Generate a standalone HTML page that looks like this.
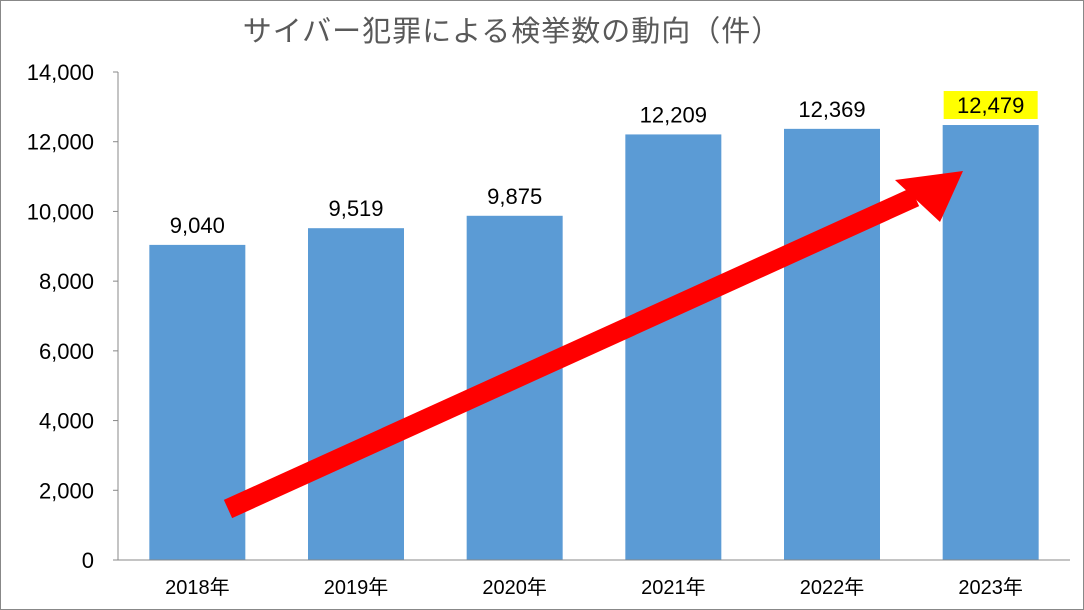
<!DOCTYPE html>
<html><head><meta charset="utf-8">
<style>
html,body{margin:0;padding:0;background:#fff;}
svg{display:block;font-family:"Liberation Sans","Noto Sans CJK JP",sans-serif;}
</style></head>
<body>
<svg id="chart" width="1084" height="610" viewBox="0 0 1084 610">
<rect x="0.5" y="0.5" width="1083" height="609" fill="#fff" stroke="#888"/>
<text x="512" y="41" text-anchor="middle" font-size="29" letter-spacing="1" fill="#595959">サイバー犯罪による検挙数の動向（件）</text>
<g id="bars"></g>
<g id="axes"></g>
<g id="labels"></g>
<g id="arrow">
<line x1="228" y1="509" x2="915" y2="197" stroke="#ff0000" stroke-width="20"/>
<polygon points="963,171 895,180 940,222" fill="#ff0000"/>
</g>
</svg>
<script>
const categories=["2018年","2019年","2020年","2021年","2022年","2023年"];
const values=[9040,9519,9875,12209,12369,12479];
const valueLabels=["9,040","9,519","9,875","12,209","12,369","12,479"];
const yTicks=[0,2000,4000,6000,8000,10000,12000,14000];
const yTickLabels=["0","2,000","4,000","6,000","8,000","10,000","12,000","14,000"];
const NS="http://www.w3.org/2000/svg";
const plotLeft=118,plotRight=1070,plotTop=72,plotBottom=560,yMax=14000;
const band=(plotRight-plotLeft)/categories.length,barW=96;
const yPos=v=>plotBottom-(v/yMax)*(plotBottom-plotTop);
const xc=i=>plotLeft+band*(i+0.5);
function mk(tag,attrs,parent){const e=document.createElementNS(NS,tag);for(const k in attrs)e.setAttribute(k,attrs[k]);parent.appendChild(e);return e;}
const gb=document.getElementById('bars'),ga=document.getElementById('axes'),gl=document.getElementById('labels');
values.forEach((v,i)=>{
 const r=mk('rect',{x:xc(i)-barW/2,y:yPos(v),width:barW,height:plotBottom-yPos(v),fill:'#5b9bd5'},gb);
 
 
 if(i===values.length-1){
  const hl=mk('rect',{x:xc(i)-47,y:yPos(v)-34,width:94,height:28,fill:'#ffff00'},gl);
  
  
 }
 const t=mk('text',{x:xc(i),y:yPos(v)-12,'text-anchor':'middle','font-size':22,fill:'#000'},gl);
 t.textContent=valueLabels[i];
 
 
 const c=mk('text',{x:xc(i),y:594,'text-anchor':'middle','font-size':20,fill:'#000'},gl);
 c.textContent=categories[i];
 
 
});
const ya=mk('line',{x1:plotLeft,y1:plotTop,x2:plotLeft,y2:plotBottom,stroke:'#888','stroke-width':1},ga);


const xa=mk('line',{x1:plotLeft,y1:plotBottom,x2:plotRight,y2:plotBottom,stroke:'#888','stroke-width':1},ga);


yTicks.forEach((v,i)=>{
 mk('line',{x1:plotLeft-5,y1:yPos(v),x2:plotLeft,y2:yPos(v),stroke:'#888'},ga);
 const t=mk('text',{x:94,y:yPos(v)+8,'text-anchor':'end','font-size':22,fill:'#000'},ga);
 t.textContent=yTickLabels[i];
 
 
});
</script>
</body></html>
